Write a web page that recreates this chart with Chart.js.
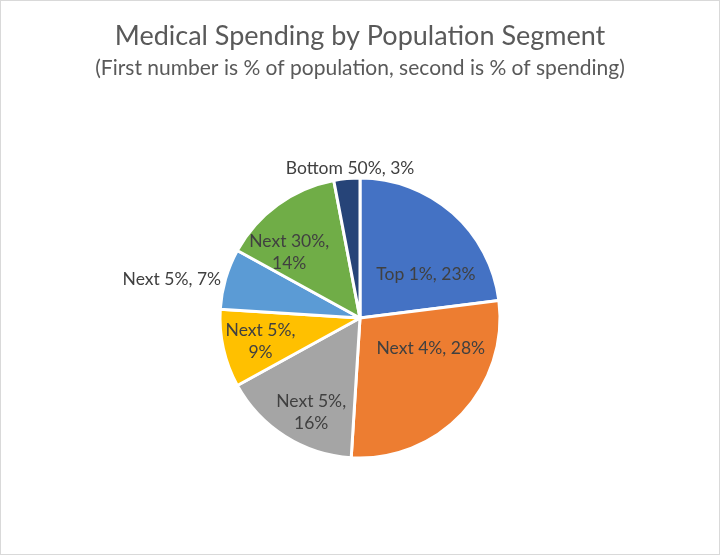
<!DOCTYPE html>
<html><head><meta charset="utf-8">
<script src="https://cdn.jsdelivr.net/npm/chart.js@4"></script>
<style>
html,body{margin:0;padding:0;background:#fff;}
#wrap{position:relative;width:720px;height:555px;box-sizing:border-box;border:1px solid #d9d9d9;}
</style></head>
<body><div id="wrap"><canvas id="c" width="718" height="553"></canvas></div>
<script>
const titleText = "Medical Spending by Population Segment";
const subtitleText = "(First number is % of population, second is % of spending)";
const categories = ["Top 1%", "Next 4%", "Next 5%", "Next 5%", "Next 5%", "Next 30%", "Bottom 50%"];
const spending = [23, 28, 16, 9, 7, 14, 3];
const colors = ["#4472C4", "#ED7D31", "#A5A5A5", "#FFC000", "#5B9BD5", "#70AD47", "#264478"];
// label placement: angle (deg, canvas), distance as fraction of radius, wrap, align
const labelAngle = [-33.5, 23.2, 117.3, 166.8, 195.6, 222.9, 266.2];
const labelDist = [0.565, 0.55, 0.76, 0.73, 1.03, 0.69, 1.074];
const labelWrap = [false, false, true, true, false, true, false];
const labelAlign = ["center", "center", "center", "center", "right", "center", "center"];

const FONT = "Lato, 'Open Sans', sans-serif";

const labelPlugin = {
  id: 'sliceLabels',
  afterDatasetsDraw(chart) {
    const ctx = chart.ctx;
    const meta = chart.getDatasetMeta(0);
    ctx.save();
    ctx.fillStyle = '#404040';
    ctx.font = "17.5px " + FONT;
    ctx.textBaseline = 'middle';
    meta.data.forEach((arc, i) => {
      const r = arc.outerRadius;
      const a = labelAngle[i] * Math.PI / 180;
      const x = arc.x + Math.cos(a) * r * labelDist[i];
      const y = arc.y + Math.sin(a) * r * labelDist[i];
      const lines = labelWrap[i] ? [categories[i] + ",", spending[i] + "%"] : [categories[i] + ", " + spending[i] + "%"];
      ctx.textAlign = labelAlign[i];
      const lh = 22;
      lines.forEach((ln, k) => {
        ctx.fillText(ln, x, y + (k - (lines.length - 1) / 2) * lh);
      });
    });
    ctx.restore();
  }
};

const titlePlugin = {
  id: 'titles',
  afterDraw(chart) {
    const ctx = chart.ctx;
    ctx.save();
    ctx.textAlign = 'center';
    ctx.textBaseline = 'middle';
    ctx.fillStyle = '#595959';
    ctx.font = "27px " + FONT;
    ctx.fillText(titleText, 359, 35);
    ctx.font = "21px " + FONT;
    ctx.fillText(subtitleText, 359, 67);
    ctx.restore();
  }
};

new Chart(document.getElementById('c'), {
  type: 'pie',
  data: {
    labels: categories,
    datasets: [{
      data: spending,
      backgroundColor: colors,
      borderColor: '#ffffff',
      borderWidth: 3,
      radius: 140
    }]
  },
  options: {
    responsive: false,
    animation: false,
    layout: { padding: { top: 100, bottom: 19, left: 0, right: 0 } },
    plugins: { legend: { display: false }, tooltip: { enabled: false }, title: { display: false } }
  },
  plugins: [labelPlugin, titlePlugin]
});
</script></body></html>
